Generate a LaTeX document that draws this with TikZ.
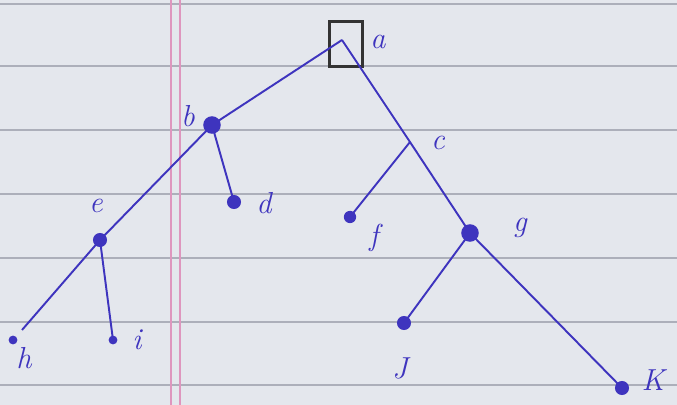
\documentclass[tikz,border=0pt]{standalone}
\usepackage{tikz}
\definecolor{ink}{RGB}{62,52,190}
\definecolor{paper}{RGB}{228,231,237}
\definecolor{rule}{RGB}{172,175,186}
\definecolor{margin}{RGB}{222,150,190}
\tikzset{
	inkdot/.style={circle, fill=ink, inner sep=0pt, minimum size=#1},
	inkdot/.default=6pt,
	inkline/.style={draw=ink, line width=1.1pt},
	inklabel/.style={text=ink, font=\LARGE\itshape},
	rootbox/.style={draw=black!80, line width=1.5pt, minimum width=0.66cm, minimum height=0.9cm, inner sep=0pt}
}
\begin{document}
\begin{tikzpicture}[x=0.02cm, y=-0.02cm]
	% paper
	\fill[paper] (0,0) rectangle (677,405);
	\useasboundingbox (0,0) rectangle (677,405);
	\foreach \y in {4,66,130,194,258,322,385}
		\draw[rule, line width=0.6pt] (0,\y) -- (677,\y);
	\draw[margin, line width=0.8pt] (171,0) -- (171,405);
	\draw[margin, line width=0.8pt] (180,0) -- (180,405);
	% tree points
	\coordinate (a) at (342,40);
	\coordinate (c) at (410,142);
	\coordinate (hend) at (22,330);
	\node[inkdot=10pt] (b) at (212,125) {};
	\node[inkdot=8pt] (d) at (234,202) {};
	\node[inkdot=8pt] (e) at (100,240) {};
	\node[inkdot=5pt] (h) at (13,340) {};
	\node[inkdot=5pt] (i) at (113,340) {};
	\node[inkdot=7pt] (f) at (350,217) {};
	\node[inkdot=10pt] (g) at (470,233) {};
	\node[inkdot=8pt] (j) at (404,323) {};
	\node[inkdot=8pt] (k) at (622,388) {};
	\node[rootbox] (box) at (346,44) {};
	% edges
	\draw[inkline] (a) -- (b.center) -- (e.center) -- (hend);
	\draw[inkline] (b.center) -- (d.center);
	\draw[inkline] (e.center) -- (i.center);
	\draw[inkline] (a) -- (c) -- (g.center) -- (k.center);
	\draw[inkline] (c) -- (f.center);
	\draw[inkline] (g.center) -- (j.center);
	% labels
	\node[inklabel] (la) at (378,42) {a};
	\node[inklabel] (lb) at (188,116) {b};
	\node[inklabel] (lc) at (438,143) {c};
	\node[inklabel] (ld) at (264,203) {d};
	\node[inklabel] (le) at (96,206) {e};
	\node[inklabel] (lf) at (374,238) {f};
	\node[inklabel] (lg) at (520,228) {g};
	\node[inklabel] (lh) at (24,358) {h};
	\node[inklabel] (li) at (137,340) {i};
	\node[inklabel] (lj) at (400,368) {J};
	\node[inklabel] (lk) at (653,380) {K};
\end{tikzpicture}
\end{document}
